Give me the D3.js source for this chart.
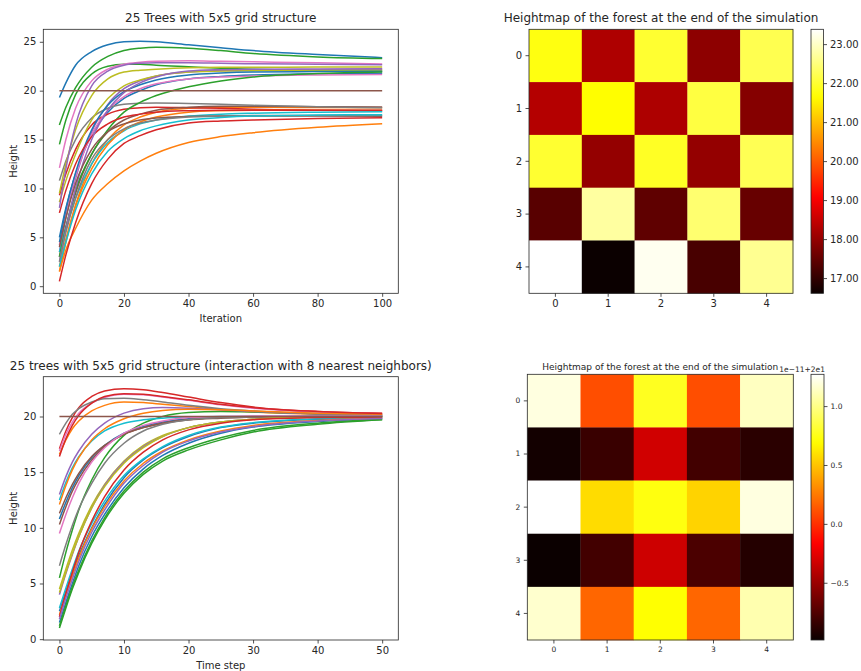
<!DOCTYPE html>
<html><head><meta charset="utf-8">
<script src="https://cdn.jsdelivr.net/npm/d3@7"></script>
<style>
body{margin:0;background:#fff}
text{font-family:"DejaVu Sans",sans-serif;fill:#262626}
</style>
</head><body><svg id="c" width="861" height="671" xmlns="http://www.w3.org/2000/svg"></svg>
<script>
// ---------------- DATA ----------------
const tab10 = ["#1f77b4","#ff7f0e","#2ca02c","#d62728","#9467bd","#8c564b","#e377c2","#7f7f7f","#bcbd22","#17becf"];

const topSteps = [0, 2, 5, 10, 15, 20, 25, 30, 40, 50, 60, 80, 100];
const topHeights = [
  [5.0, 8.0, 11.5, 15.5, 17.8, 19.2, 20.0, 20.6, 21.2, 21.45, 21.6, 21.72, 21.77],
  [1.5, 4.5, 8.3, 12.5, 15.0, 16.5, 17.3, 17.8, 18.2, 18.3, 18.3, 18.28, 18.26],
  [14.5, 17.0, 19.6, 21.7, 22.5, 22.7, 22.7, 22.6, 22.45, 22.3, 22.2, 22.05, 21.99],
  [9.3, 11.5, 14.0, 16.5, 17.6, 18.1, 18.25, 18.3, 18.25, 18.2, 18.1, 18.0, 17.93],
  [3.5, 7.0, 11.0, 15.8, 18.6, 20.2, 21.0, 21.5, 21.9, 22.05, 22.1, 22.15, 22.2],
  [3.0, 6.0, 9.5, 13.5, 15.8, 17.0, 17.6, 18.0, 18.3, 18.4, 18.4, 18.35, 18.32],
  [4.2, 7.5, 11.3, 15.5, 18.0, 19.4, 20.2, 20.7, 21.2, 21.4, 21.5, 21.6, 21.65],
  [10.8, 12.8, 15.0, 17.2, 18.2, 18.6, 18.72, 18.75, 18.7, 18.6, 18.5, 18.35, 18.25],
  [8.6, 10.8, 13.5, 17.0, 19.2, 20.5, 21.1, 21.5, 21.9, 22.0, 22.05, 22.08, 22.1],
  [3.5, 6.0, 9.0, 12.5, 14.7, 15.9, 16.6, 17.0, 17.4, 17.6, 17.7, 17.8, 17.85],
  [4.5, 7.8, 11.6, 16.0, 18.5, 19.9, 20.6, 21.1, 21.6, 21.8, 21.9, 21.95, 21.99],
  [2.0, 4.8, 8.2, 12.0, 14.5, 16.0, 16.8, 17.3, 17.8, 17.95, 18.0, 18.0, 18.0],
  [3.0, 6.0, 9.8, 13.5, 16.0, 17.8, 18.8, 19.5, 20.4, 21.0, 21.4, 21.75, 21.91],
  [7.5, 9.8, 12.5, 15.3, 16.6, 17.3, 17.6, 17.8, 17.95, 18.0, 18.0, 18.0, 18.0],
  [2.5, 5.8, 10.0, 15.0, 18.0, 19.8, 20.8, 21.4, 22.0, 22.15, 22.2, 22.22, 22.23],
  [4.0, 7.0, 10.5, 14.0, 15.8, 16.6, 17.0, 17.2, 17.35, 17.4, 17.4, 17.4, 17.39],
  [12.1, 15.0, 18.2, 21.0, 22.2, 22.7, 22.9, 23.0, 23.05, 23.0, 22.95, 22.85, 22.74],
  [2.5, 5.5, 9.0, 13.0, 15.0, 16.1, 16.7, 17.0, 17.3, 17.4, 17.45, 17.46, 17.46],
  [9.5, 12.5, 16.0, 19.5, 21.2, 21.9, 22.1, 22.2, 22.35, 22.4, 22.4, 22.41, 22.41],
  [2.0, 4.5, 7.8, 11.5, 13.8, 15.1, 15.9, 16.4, 17.0, 17.25, 17.4, 17.5, 17.54],
  [19.3, 20.8, 22.6, 24.0, 24.7, 25.0, 25.05, 25.0, 24.7, 24.4, 24.1, 23.7, 23.38],
  [1.5, 3.7, 5.9, 8.8, 10.5, 11.8, 12.8, 13.6, 14.7, 15.3, 15.7, 16.25, 16.61],
  [16.5, 18.3, 20.3, 22.4, 23.5, 24.1, 24.35, 24.45, 24.35, 24.1, 23.8, 23.45, 23.28],
  [0.5, 3.2, 6.5, 10.5, 13.0, 14.6, 15.4, 16.0, 16.7, 16.9, 17.0, 17.15, 17.23],
  [8.0, 12.0, 16.5, 20.5, 22.0, 22.6, 22.8, 22.85, 22.85, 22.8, 22.75, 22.7, 22.64]
];
const topRefSteps = [0, 100];
const topRefLevel = [20, 20];

// Panel 3: 25 trees, 8 nearest neighbours (time steps 0..50)
const botSteps = [0, 1, 2, 3, 5, 7, 10, 13, 16, 20, 25, 30, 40, 50];
const botHeights = [
  [10.8, 12.3, 13.6, 14.7, 16.3, 17.4, 18.5, 19.1, 19.5, 19.8, 19.95, 20.0, 20.02, 20.02],
  [16.6, 17.9, 18.9, 19.6, 20.5, 21.0, 21.3, 21.25, 21.1, 20.9, 20.6, 20.4, 20.2, 20.15],
  [5.5, 7.8, 9.8, 11.6, 14.3, 16.3, 18.3, 19.4, 20.0, 20.35, 20.45, 20.4, 20.25, 20.12],
  [17.1, 18.7, 19.9, 20.8, 21.8, 22.3, 22.5, 22.4, 22.15, 21.75, 21.25, 20.85, 20.45, 20.3],
  [13.0, 14.6, 15.9, 16.9, 18.4, 19.4, 20.3, 20.7, 20.8, 20.75, 20.6, 20.45, 20.25, 20.15],
  [11.3, 12.7, 13.9, 14.9, 16.4, 17.4, 18.4, 19.0, 19.4, 19.7, 19.9, 19.95, 20.0, 20.0],
  [16.9, 18.4, 19.5, 20.3, 21.2, 21.7, 22.0, 21.95, 21.75, 21.45, 21.05, 20.75, 20.4, 20.25],
  [18.4, 19.4, 20.2, 20.7, 21.3, 21.6, 21.65, 21.5, 21.3, 21.0, 20.7, 20.5, 20.25, 20.12],
  [4.5, 6.3, 8.0, 9.5, 12.0, 13.9, 16.0, 17.4, 18.3, 19.0, 19.5, 19.75, 19.95, 20.0],
  [12.5, 14.1, 15.4, 16.4, 17.8, 18.7, 19.4, 19.7, 19.85, 19.95, 20.0, 20.0, 20.0, 20.0],
  [2.5, 4.3, 6.0, 7.5, 10.0, 12.1, 14.5, 16.1, 17.2, 18.2, 19.0, 19.4, 19.75, 19.85],
  [12.1, 13.8, 15.2, 16.3, 17.9, 18.9, 19.8, 20.3, 20.55, 20.65, 20.6, 20.5, 20.3, 20.2],
  [1.0, 2.8, 4.5, 6.0, 8.6, 10.7, 13.1, 14.8, 16.0, 17.0, 17.9, 18.6, 19.3, 19.7],
  [16.4, 18.0, 19.2, 20.1, 21.2, 21.8, 22.05, 22.0, 21.8, 21.5, 21.1, 20.8, 20.45, 20.28],
  [4.0, 5.9, 7.6, 9.2, 11.8, 13.8, 15.9, 17.3, 18.2, 19.0, 19.5, 19.75, 19.95, 20.0],
  [10.3, 11.9, 13.3, 14.4, 16.1, 17.3, 18.4, 19.0, 19.4, 19.7, 19.85, 19.95, 20.0, 20.0],
  [9.5, 11.2, 12.7, 14.0, 15.9, 17.2, 18.5, 19.2, 19.6, 19.9, 20.0, 20.05, 20.05, 20.05],
  [6.6, 8.5, 10.2, 11.7, 14.0, 15.8, 17.6, 18.7, 19.3, 19.7, 19.9, 19.95, 20.0, 20.0],
  [4.2, 6.0, 7.7, 9.2, 11.8, 13.7, 15.8, 17.2, 18.2, 19.0, 19.5, 19.75, 19.95, 19.98],
  [2.8, 4.6, 6.3, 7.9, 10.4, 12.4, 14.7, 16.2, 17.3, 18.3, 19.05, 19.45, 19.8, 19.9],
  [1.5, 3.3, 5.0, 6.6, 9.2, 11.2, 13.6, 15.3, 16.5, 17.6, 18.5, 19.05, 19.55, 19.8],
  [2.2, 4.0, 5.7, 7.3, 9.9, 11.9, 14.2, 15.8, 16.9, 17.9, 18.7, 19.2, 19.65, 19.85],
  [1.2, 3.0, 4.7, 6.2, 8.8, 10.9, 13.3, 15.0, 16.2, 17.2, 18.1, 18.75, 19.4, 19.72],
  [2.0, 4.1, 6.0, 7.8, 10.6, 12.8, 15.2, 16.8, 17.9, 18.8, 19.4, 19.7, 19.9, 19.95],
  [1.8, 3.7, 5.4, 7.0, 9.6, 11.6, 14.0, 15.6, 16.8, 17.8, 18.6, 19.1, 19.6, 19.82]
];
const botRefSteps = [0, 50];
const botRefLevel = [20, 20];

// Panel 4: final heights, offsets from 20 in units of 1e-11 (rows 0..4)
const botFinalOffsets = [
  [1.20, 0.10, 0.77, 0.10, 1.13],
  [-0.96, -0.83, -0.32, -0.80, -0.88],
  [1.27, 0.58, 0.73, 0.55, 1.20],
  [-0.986, -0.80, -0.33, -0.77, -0.90],
  [1.16, 0.18, 0.70, 0.18, 1.09]
];

const gridIdx = [0, 1, 2, 3, 4];
const topCbTicks = [17, 18, 19, 20, 21, 22, 23];
const botCbTicks = [-0.5, 0.0, 0.5, 1.0];

// ---------------- DRAW ----------------
const svg = d3.select("#c");
const AX = "#262626";

function styleAxis(g, fs) {
  g.selectAll("path.domain").remove();
  g.selectAll("line").attr("stroke", AX).attr("stroke-width", 0.8);
  g.selectAll("text").attr("font-size", fs).attr("fill", AX).attr("font-family", "DejaVu Sans");
}

function hotScale(vmin, vmax) {
  const s = vmax - vmin;
  return d3.scaleLinear()
    .domain([vmin, vmin + 0.365079 * s, vmin + 0.746032 * s, vmax])
    .range(["#0b0000", "#ff0000", "#ffff00", "#ffffff"])
    .interpolate(d3.interpolateRgb).clamp(true);
}

function lineChart(o) {
  const g = svg.append("g");
  const all = o.series.flat();
  const ext = d3.extent(all);
  const py = (ext[1] - ext[0]) * 0.05;
  const xe = d3.extent(o.steps), px = (xe[1] - xe[0]) * 0.05;
  const x = d3.scaleLinear().domain([xe[0] - px, xe[1] + px]).range([o.L, o.R]);
  const y = d3.scaleLinear().domain([ext[0] - py, ext[1] + py]).range([o.B, o.T]);
  const line = d3.line().x(d => x(d[0])).y(d => y(d[1])).curve(d3.curveMonotoneX);
  g.append("defs").append("clipPath").attr("id", o.id).append("rect")
    .attr("x", o.L).attr("y", o.T).attr("width", o.R - o.L).attr("height", o.B - o.T);
  const lg = g.append("g").attr("clip-path", `url(#${o.id})`);
  o.series.forEach((s, i) => {
    lg.append("path").attr("d", line(s.map((v, k) => [o.steps[k], v])))
      .attr("fill", "none").attr("stroke", tab10[i % 10]).attr("stroke-width", 1.5);
  });
  lg.append("path").attr("d", line(o.refSteps.map((v, k) => [v, o.refLevel[k]])))
    .attr("fill", "none").attr("stroke", tab10[o.series.length % 10]).attr("stroke-width", 1.5);
  g.append("rect").attr("x", o.L).attr("y", o.T).attr("width", o.R - o.L).attr("height", o.B - o.T)
    .attr("fill", "none").attr("stroke", AX).attr("stroke-width", 0.8);
  const gx = g.append("g").attr("transform", `translate(0,${o.B})`)
    .call(d3.axisBottom(x).tickValues(o.xTicks).tickSize(3.5).tickPadding(3.5).tickFormat(d3.format("d")));
  styleAxis(gx, 10);
  const gy = g.append("g").attr("transform", `translate(${o.L},0)`)
    .call(d3.axisLeft(y).tickValues(o.yTicks).tickSize(3.5).tickPadding(3.5).tickFormat(d3.format("d")));
  styleAxis(gy, 10);
  g.append("text").attr("x", (o.L + o.R) / 2).attr("y", o.titleY).attr("text-anchor", "middle")
    .attr("font-size", 12).text(o.title);
  g.append("text").attr("x", (o.L + o.R) / 2).attr("y", o.xlabY).attr("text-anchor", "middle")
    .attr("font-size", 10).text(o.xlabel);
  g.append("text").attr("transform", `translate(17,${(o.T + o.B) / 2}) rotate(-90)`)
    .attr("text-anchor", "middle").attr("font-size", 10).text("Height");
}

function heatmap(o) {
  const g = svg.append("g");
  const flat = o.values.flat();
  const ext = d3.extent(flat);
  const color = hotScale(ext[0], ext[1]);
  const x = d3.scaleBand().domain(gridIdx).range([o.L, o.R]);
  const y = d3.scaleBand().domain(gridIdx).range([o.T, o.B]);
  o.values.forEach((row, r) => row.forEach((v, c) => {
    g.append("rect").attr("x", x(c)).attr("y", y(r))
      .attr("width", x.bandwidth() + 0.3).attr("height", y.bandwidth() + 0.3)
      .attr("fill", color(v));
  }));
  g.append("rect").attr("x", o.L).attr("y", o.T).attr("width", o.R - o.L).attr("height", o.B - o.T)
    .attr("fill", "none").attr("stroke", AX).attr("stroke-width", 0.8);
  const gx = g.append("g").attr("transform", `translate(0,${o.B})`)
    .call(d3.axisBottom(x).tickSize(3.5).tickPadding(3.5));
  styleAxis(gx, o.fs);
  const gy = g.append("g").attr("transform", `translate(${o.L},0)`)
    .call(d3.axisLeft(y).tickSize(3.5).tickPadding(3.5));
  styleAxis(gy, o.fs);
  g.append("text").attr("x", (o.L + o.R) / 2).attr("y", o.titleY).attr("text-anchor", "middle")
    .attr("font-size", o.tfs).text(o.title);
  // colorbar
  const gid = o.id + "g";
  const grad = g.append("defs").append("linearGradient").attr("id", gid)
    .attr("x1", 0).attr("y1", 1).attr("x2", 0).attr("y2", 0);
  d3.range(0, 1.0001, 0.02).forEach(t => {
    grad.append("stop").attr("offset", t).attr("stop-color", color(ext[0] + t * (ext[1] - ext[0])));
  });
  g.append("rect").attr("x", o.cbL).attr("y", o.T).attr("width", o.cbW).attr("height", o.B - o.T)
    .attr("fill", `url(#${gid})`).attr("stroke", AX).attr("stroke-width", 0.8);
  const cy = d3.scaleLinear().domain([ext[0] * o.cbMul, ext[1] * o.cbMul]).range([o.B, o.T]);
  const gc = g.append("g").attr("transform", `translate(${o.cbL + o.cbW},0)`)
    .call(d3.axisRight(cy).tickValues(o.cbTicks).tickSize(3.5).tickPadding(3).tickFormat(d3.format(o.cbFmt)));
  styleAxis(gc, o.fs);
  if (o.offsetText) {
    g.append("text").attr("x", o.cbL + o.cbW + 1).attr("y", o.T - 2).attr("text-anchor", "end")
      .attr("font-size", o.fs).text(o.offsetText);
  }
}

lineChart({
  id: "c1", L: 43.3, R: 398.3, T: 29.3, B: 293.3,
  steps: topSteps, series: topHeights, refSteps: topRefSteps, refLevel: topRefLevel,
  xTicks: [0, 20, 40, 60, 80, 100], yTicks: [0, 5, 10, 15, 20, 25],
  title: "25 Trees with 5x5 grid structure", titleY: 22, xlabel: "Iteration", xlabY: 322
});

heatmap({
  id: "h1", L: 529, R: 793, T: 29.3, B: 293.3,
  values: d3.range(5).map(r => topHeights.slice(r * 5, r * 5 + 5).map(s => s[s.length - 1])),
  title: "Heightmap of the forest at the end of the simulation", titleY: 22, tfs: 12, fs: 10,
  cbL: 811, cbW: 12.5, cbMul: 1, cbTicks: topCbTicks, cbFmt: ".2f"
});

lineChart({
  id: "c3", L: 43.3, R: 398.3, T: 376.7, B: 640,
  steps: botSteps, series: botHeights, refSteps: botRefSteps, refLevel: botRefLevel,
  xTicks: [0, 10, 20, 30, 40, 50], yTicks: [0, 5, 10, 15, 20],
  title: "25 trees with 5x5 grid structure (interaction with 8 nearest neighbors)", titleY: 370,
  xlabel: "Time step", xlabY: 669
});

heatmap({
  id: "h2", L: 527.3, R: 793.3, T: 374.3, B: 640,
  values: botFinalOffsets,
  title: "Heightmap of the forest at the end of the simulation", titleY: 370, tfs: 9, fs: 7.5,
  cbL: 811, cbW: 13, cbMul: 1, cbTicks: botCbTicks, cbFmt: ".1f", offsetText: "1e\u221211+2e1"
});
</script></body></html>
